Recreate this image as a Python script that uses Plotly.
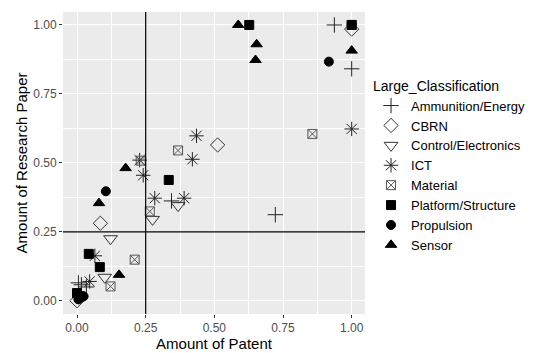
import plotly.graph_objects as go

categories = ["Ammunition/Energy", "CBRN", "Control/Electronics", "ICT", "Material",
              "Platform/Structure", "Propulsion", "Sensor"]

ammo_x = [0.937, 1.0, 0.722, 0.344, 0.016, 0.034, 0.005]
ammo_y = [1.0, 0.841, 0.312, 0.362, 0.058, 0.050, 0.065]

cbrn_x = [1.0, 0.512, 0.085, 0.0]
cbrn_y = [0.985, 0.565, 0.281, 0.0]

ctrl_x = [0.368, 0.275, 0.122, 0.101]
ctrl_y = [0.345, 0.295, 0.225, 0.085]

ict_x = [1.0, 0.435, 0.42, 0.228, 0.241, 0.283, 0.39, 0.065, 0.046]
ict_y = [0.623, 0.598, 0.513, 0.51, 0.455, 0.372, 0.372, 0.163, 0.07]

mat_x = [1.0, 0.857, 0.368, 0.232, 0.265, 0.21, 0.122]
mat_y = [1.0, 0.605, 0.545, 0.508, 0.324, 0.149, 0.052]

plat_x = [0.627, 1.0, 0.334, 0.043, 0.083, 0.0, 0.01]
plat_y = [1.0, 1.0, 0.438, 0.17, 0.122, 0.028, 0.016]

prop_x = [1.0, 0.917, 0.105, 0.024, 0.005]
prop_y = [1.0, 0.867, 0.397, 0.016, 0.005]

sens_x = [0.587, 0.654, 0.65, 1.0, 0.177, 0.08, 0.153]
sens_y = [1.0, 0.93, 0.873, 0.907, 0.481, 0.354, 0.094]

xs = [ammo_x, cbrn_x, ctrl_x, ict_x, mat_x, plat_x, prop_x, sens_x]
ys = [ammo_y, cbrn_y, ctrl_y, ict_y, mat_y, plat_y, prop_y, sens_y]
symbols = ["cross-thin-open", "diamond-open", "triangle-down-open", "asterisk-open",
           "square-x-open", "square", "circle", "triangle-up"]
sizes = [11, 11, 12, 12, 9, 9, 9, 10]
colors = ["#222222", "#333333", "#333333", "#222222", "#555555", "black", "black", "black"]

fig = go.Figure()
for name, x, y, sym, sz, c in zip(categories, xs, ys, symbols, sizes, colors):
    fig.add_trace(go.Scatter(
        x=x, y=y, mode="markers", name=name,
        marker=dict(symbol=sym, size=sz, color=c,
                    line=dict(color=c, width=1)),
    ))

axis_common = dict(
    showgrid=True, gridcolor="white", gridwidth=1.1,
    zeroline=False, ticks="outside", ticklen=3, tickcolor="#333333", tickwidth=1,
    tickfont=dict(size=12, color="#4D4D4D"),
    tickformat=".2f", dtick=0.25, tick0=0,
    minor=dict(showgrid=True, gridcolor="white", gridwidth=0.5, dtick=0.125, tick0=0.125,
               ticks=""),
    showline=False, automargin=False,
)

# the page body adds an 8px offset, so the figure is 8px smaller than the window
fig.update_layout(
    width=550, height=345,
    margin=dict(l=55, r=193, t=4, b=39),
    paper_bgcolor="white", plot_bgcolor="#EBEBEB",
    font=dict(family="Liberation Sans, Arial, sans-serif", color="black"),
    xaxis=dict(range=[-0.051, 1.0485],
               title=dict(text="Amount of Patent", font=dict(size=15), standoff=2),
               **axis_common),
    yaxis=dict(range=[-0.048, 1.047],
               title=dict(text="Amount of Research Paper", font=dict(size=15), standoff=1),
               **axis_common),
    legend=dict(x=1.02, xanchor="left", y=0.80, yanchor="top",
                title=dict(text="Large_Classification", font=dict(size=14)),
                font=dict(size=13), tracegroupgap=0, itemwidth=30, bgcolor="rgba(0,0,0,0)"),
    shapes=[
        dict(type="line", xref="x", yref="paper", x0=0.25, x1=0.25, y0=0, y1=1,
             line=dict(color="black", width=1.2)),
        dict(type="line", xref="paper", yref="y", x0=0, x1=1, y0=0.25, y1=0.25,
             line=dict(color="black", width=1.2)),
    ],
)

fig.write_html("out.html")
